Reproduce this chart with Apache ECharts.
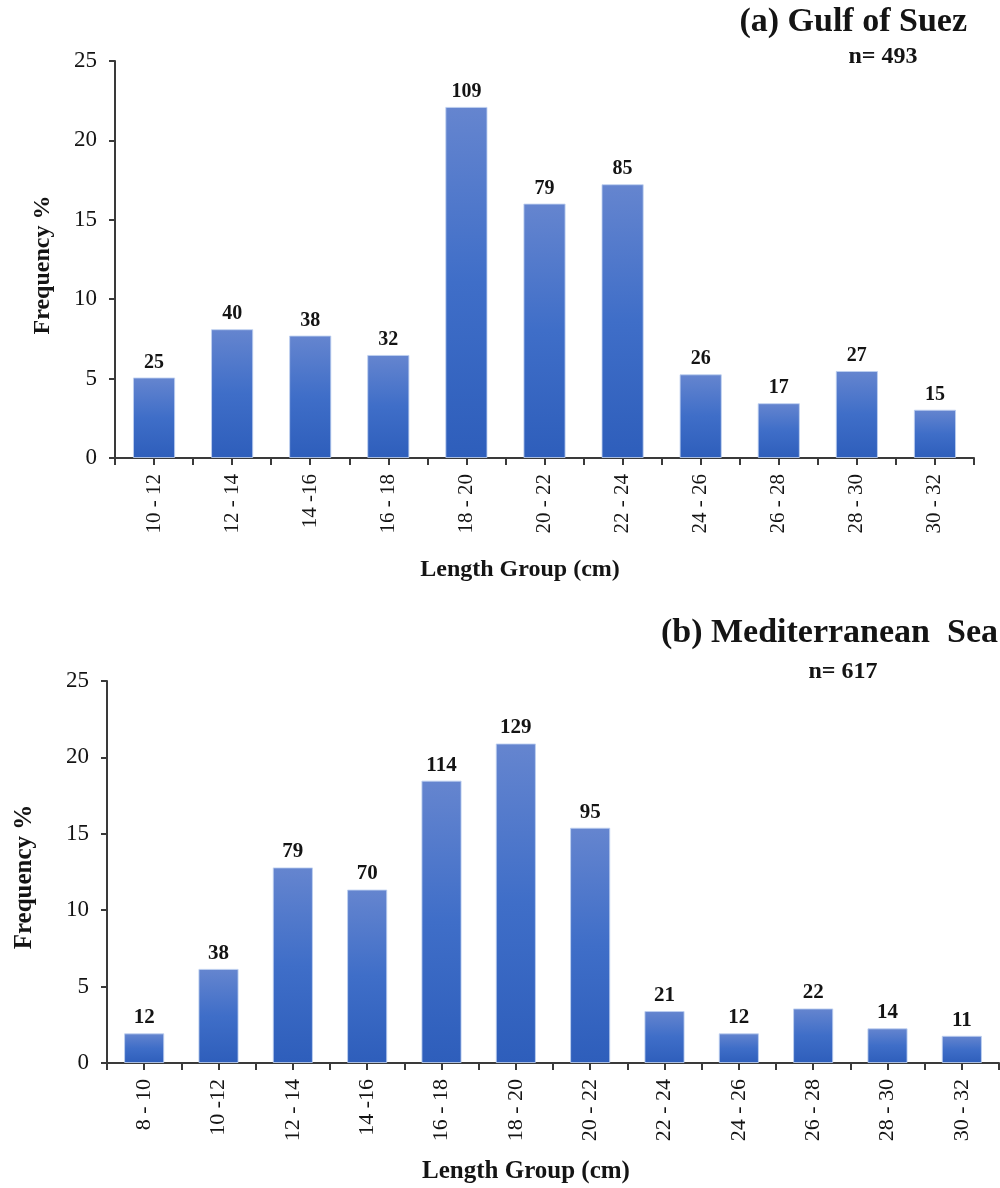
<!DOCTYPE html>
<html>
<head>
<meta charset="utf-8">
<title>Length frequency distribution</title>
<script src="https://cdn.jsdelivr.net/npm/echarts@6/dist/echarts.min.js"></script>
<style>
  html, body { margin: 0; padding: 0; background: #ffffff; }
  #chart { width: 1000px; height: 1188px; }
</style>
</head>
<body>
<div id="chart"></div>
<script>
// (a) Gulf of Suez — fish counts per 2 cm length group
const suezGroups = ['10 - 12', '12 - 14', '14 -16', '16 - 18', '18 - 20', '20 - 22', '22 - 24', '24 - 26', '26 - 28', '28 - 30', '30 - 32'];
const suezCounts = [25, 40, 38, 32, 109, 79, 85, 26, 17, 27, 15];
const suezTotal = 493;

// (b) Mediterranean Sea — fish counts per 2 cm length group
const medGroups = ['8 - 10', '10 -12', '12 - 14', '14 -16', '16 - 18', '18 - 20', '20 - 22', '22 - 24', '24 - 26', '26 - 28', '28 - 30', '30 - 32'];
const medCounts = [12, 38, 79, 70, 114, 129, 95, 21, 12, 22, 14, 11];
const medTotal = 617;

// Frequency axis ticks
const freqMin = 0;
const freqMax = 25;
const freqStep = 5;

// Frequency % of each group is its count over the sample size
const toPercent = (counts, total) => counts.map(c => +(c / total * 100).toFixed(2));
const suezPercent = toPercent(suezCounts, suezTotal);
const medPercent = toPercent(medCounts, medTotal);

const SERIF = '"Liberation Serif", "Times New Roman", "DejaVu Serif", serif';
const AXIS_COLOR = '#3a3a3a';
const TEXT_COLOR = '#141414';

const barFill = {
  type: 'linear', x: 0, y: 0, x2: 0, y2: 1,
  colorStops: [
    { offset: 0, color: '#6585cf' },
    { offset: 0.5, color: '#3f6ec8' },
    { offset: 1, color: '#2e5ebb' }
  ]
};

function categoryAxes(gridIndex, groups, labelSize) {
  return [
    // labelled axis, ticks under each bar
    {
      type: 'category', gridIndex, data: groups, position: 'bottom',
      axisLine: { show: true, lineStyle: { color: AXIS_COLOR, width: 2 } },
      axisTick: { show: true, alignWithLabel: true, interval: 0, length: 7, lineStyle: { color: AXIS_COLOR, width: 2 } },
      axisLabel: { interval: 0, rotate: 90, margin: 16, color: TEXT_COLOR, fontFamily: SERIF, fontSize: labelSize },
      splitLine: { show: false }
    },
    // same categories, ticks on the group boundaries
    {
      type: 'category', gridIndex, data: groups, position: 'bottom',
      axisLine: { show: false },
      axisTick: { show: true, alignWithLabel: false, interval: 0, length: 7, lineStyle: { color: AXIS_COLOR, width: 2 } },
      axisLabel: { show: false },
      splitLine: { show: false }
    }
  ];
}

function valueAxis(gridIndex, labelSize, margin) {
  return {
    type: 'value', gridIndex, min: freqMin, max: freqMax, interval: freqStep,
    axisLine: { show: true, lineStyle: { color: AXIS_COLOR, width: 2 } },
    axisTick: { show: true, length: 6, lineStyle: { color: AXIS_COLOR, width: 2 } },
    axisLabel: { margin, color: TEXT_COLOR, fontFamily: SERIF, fontSize: labelSize },
    splitLine: { show: false }
  };
}

function barSeries(xAxisIndex, yAxisIndex, values, counts, labelSize) {
  return {
    type: 'bar', xAxisIndex, yAxisIndex, data: values,
    barWidth: '54%',
    itemStyle: { color: barFill, borderColor: 'rgba(190,208,240,0.85)', borderWidth: 1 },
    label: {
      show: true, position: 'top', distance: 5,
      formatter: p => String(counts[p.dataIndex]),
      color: TEXT_COLOR, fontFamily: SERIF, fontWeight: 'bold', fontSize: labelSize
    },
    animation: false
  };
}

function text(x, y, str, size, extra) {
  return Object.assign({
    type: 'text', x, y,
    style: {
      text: str, fill: TEXT_COLOR, font: 'bold ' + size + 'px ' + SERIF,
      textAlign: 'center', textVerticalAlign: 'middle'
    }
  }, extra || {});
}

function rightText(x, y, str, size) {
  return {
    type: 'text', x, y,
    style: {
      text: str, fill: TEXT_COLOR, font: 'bold ' + size + 'px ' + SERIF,
      textAlign: 'right', textVerticalAlign: 'middle'
    }
  };
}

const chart = echarts.init(document.getElementById('chart'), null, { renderer: 'canvas' });

chart.setOption({
  backgroundColor: '#ffffff',
  animation: false,
  grid: [
    { left: 115, top: 61, width: 859, height: 397 },
    { left: 107, top: 681, width: 892, height: 382 }
  ],
  xAxis: [].concat(categoryAxes(0, suezGroups, 21), categoryAxes(1, medGroups, 22)),
  yAxis: [valueAxis(0, 23, 18), valueAxis(1, 23, 18)],
  series: [
    barSeries(0, 0, suezPercent, suezCounts, 20),
    barSeries(2, 1, medPercent, medCounts, 21)
  ],
  graphic: [
    // panel (a)
    rightText(967, 22, '(a) Gulf of Suez', 34),
    text(883, 57, 'n= ' + suezTotal, 24),
    text(43, 265, 'Frequency %', 24, { rotation: Math.PI / 2 }),
    text(520, 570, 'Length Group (cm)', 24),
    // panel (b)
    rightText(998, 633, '(b) Mediterranean  Sea', 34),
    text(843, 672, 'n= ' + medTotal, 24),
    text(25, 877, 'Frequency %', 25, { rotation: Math.PI / 2 }),
    text(526, 1172, 'Length Group (cm)', 25)
  ]
});
</script>
</body>
</html>
